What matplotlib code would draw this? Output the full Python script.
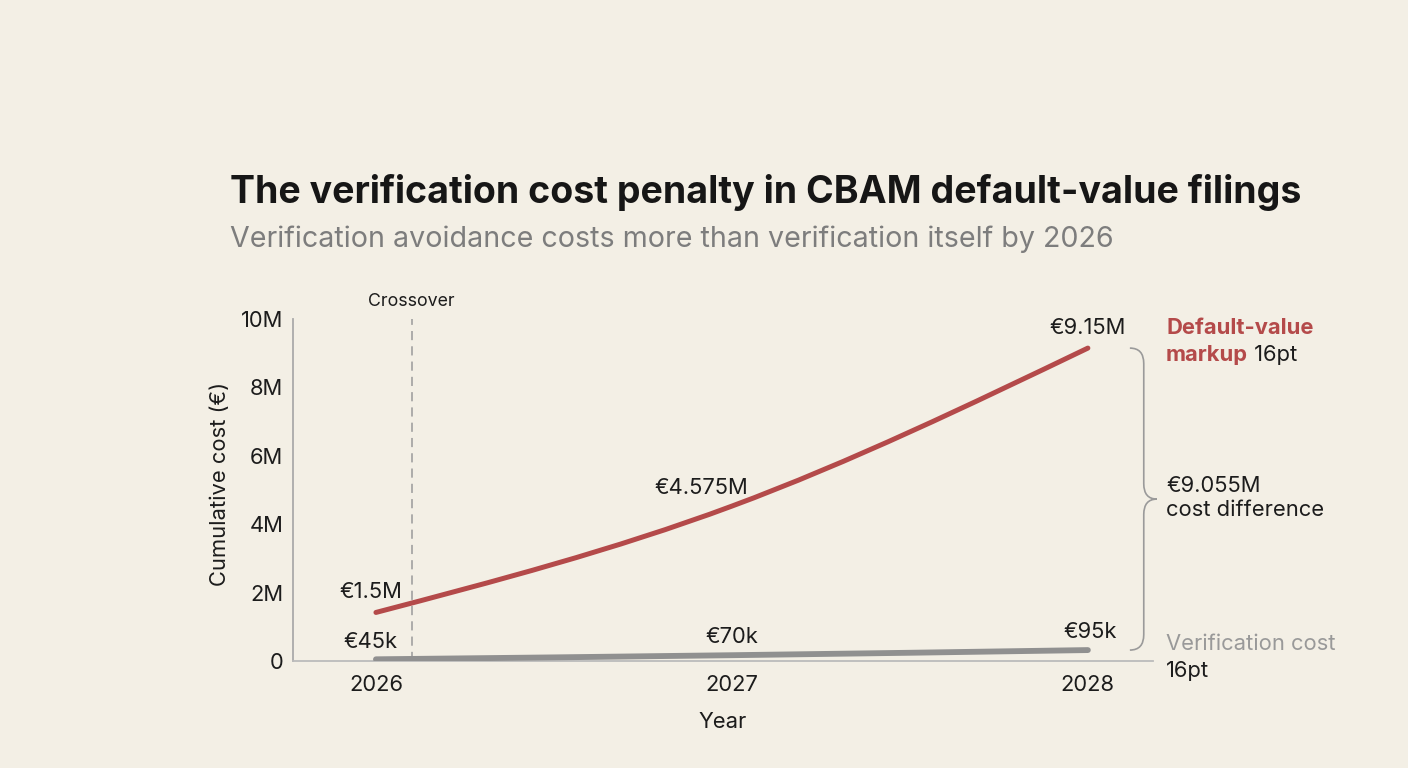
import numpy as np
import matplotlib
matplotlib.use("Agg")
import matplotlib.pyplot as plt
from matplotlib.path import Path
from matplotlib.patches import PathPatch

plt.rcParams['font.family'] = ['Inter', 'DejaVu Sans']

# data (in millions of euro)
years = [2026, 2027, 2028]
default_vals = [1.42, 4.53, 9.15]
verif_vals = [0.05, 0.17, 0.32]
default_labels = ['€1.5M', '€4.575M', '€9.15M']
verif_labels = ['€45k', '€70k', '€95k']
yticks = [0, 2, 4, 6, 8, 10]
ytick_labels = ['0', '2M', '4M', '6M', '8M', '10M']
crossover_year = 2026.1
diff_label = '€9.055M\ncost difference'

BG = '#F3EFE5'
RED = '#B44A4A'
GREY = '#909090'
INK = '#1c1c1c'
FS = 15.8


def mono_tangents(x, y):
    x = np.asarray(x, float)
    y = np.asarray(y, float)
    h = np.diff(x)
    s = np.diff(y) / h
    t = np.zeros(len(x))
    for i in range(1, len(x) - 1):
        p = (s[i-1]*h[i] + s[i]*h[i-1]) / (h[i-1] + h[i])
        t[i] = (np.sign(s[i-1]) + np.sign(s[i])) * min(abs(s[i-1]), abs(s[i]), 0.5*abs(p))
    t[0] = (3*s[0] - t[1]) / 2
    t[-1] = (3*s[-1] - t[-2]) / 2
    return t


def smooth_path(x, y):
    t = mono_tangents(x, y)
    verts = [(x[0], y[0])]
    codes = [Path.MOVETO]
    for i in range(len(x) - 1):
        h = x[i+1] - x[i]
        verts += [(x[i] + h/3, y[i] + t[i]*h/3),
                  (x[i+1] - h/3, y[i+1] - t[i+1]*h/3),
                  (x[i+1], y[i+1])]
        codes += [Path.CURVE4] * 3
    return Path(verts, codes)


fig = plt.figure(figsize=(14.08, 7.68), dpi=100, facecolor=BG)
ax = fig.add_axes([0.2081, 0.1393, 0.6108, 0.4453])
ax.set_facecolor(BG)
ax.set_xlim(2025.767, 2028.183)
ax.set_ylim(0, 10)

for s in ['top', 'right']:
    ax.spines[s].set_visible(False)
ax.spines['left'].set_color('#aaaaaa')
ax.spines['bottom'].set_color('#bbbbbb')
ax.spines['left'].set_linewidth(1.3)
ax.spines['bottom'].set_linewidth(1.3)

ax.set_xticks(years)
ax.set_xticklabels([str(y) for y in years])
ax.set_yticks(yticks)
ax.set_yticklabels(ytick_labels)
ax.tick_params(axis='both', length=0, labelsize=FS, colors=INK)
ax.tick_params(axis='x', pad=10)
ax.tick_params(axis='y', pad=7)

# crossover marker
ax.axvline(crossover_year, color='#9a9a9a', lw=1.1, dashes=(6, 4), zorder=1)
ax.text(crossover_year, 10.25, 'Crossover', ha='center', va='bottom',
        fontsize=12.8, color=INK)

# lines
ax.add_patch(PathPatch(smooth_path(years, verif_vals), fill=False,
                       edgecolor=GREY, lw=4.2, capstyle='round', zorder=3))
ax.add_patch(PathPatch(smooth_path(years, default_vals), fill=False,
                       edgecolor=RED, lw=3.6, capstyle='round', zorder=4))

# point labels
red_off = [(-3.6, 15), (-22, 13), (0, 14.4)]
grey_off = [(-3.6, 12.5), (0, 13), (1.5, 13)]
for x, y, lab, off in zip(years, default_vals, default_labels, red_off):
    ax.annotate(lab, (x, y), xytext=off, textcoords='offset points',
                ha='center', va='center', fontsize=FS, color=INK)
for x, y, lab, off in zip(years, verif_vals, verif_labels, grey_off):
    ax.annotate(lab, (x, y), xytext=off, textcoords='offset points',
                ha='center', va='center', fontsize=FS, color=INK)

# brace between the two end values
ytop = default_vals[-1]
ybot = verif_vals[-1]
ymid = (ytop + ybot) / 2
x0, x1, x2 = 2028.118, 2028.157, 2028.194
r = 0.45
bverts = [(x0, ytop), (x1, ytop), (x1, ytop - r), (x1, ymid + r),
          (x1, ymid), (x2, ymid), (x1, ymid), (x1, ymid - r),
          (x1, ybot + r), (x1, ybot), (x0, ybot)]
bcodes = [Path.MOVETO, Path.CURVE3, Path.CURVE3, Path.LINETO,
          Path.CURVE3, Path.CURVE3, Path.CURVE3, Path.CURVE3,
          Path.LINETO, Path.CURVE3, Path.CURVE3]
ax.add_patch(PathPatch(Path(bverts, bcodes), fill=False, edgecolor='#9a9a9a',
                       lw=1.2, clip_on=False))

# right-side labels
lx = 1166 / 1408
fig.text(lx, 1 - 328/768, 'Default-value', ha='left', va='center',
         fontsize=FS, color=RED, fontweight='bold')
t_mk = fig.text(lx, 1 - 355/768, 'markup', ha='left', va='center',
                fontsize=FS, color=RED, fontweight='bold')
ax.annotate(' 16pt', xy=(1, 0.5), xycoords=t_mk, ha='left', va='center',
            fontsize=FS, color=INK, annotation_clip=False)
fig.text(lx, 1 - 498/768, diff_label, ha='left', va='center',
         fontsize=FS, color=INK, linespacing=1.25)
fig.text(lx, 1 - 644/768, 'Verification cost', ha='left', va='center',
         fontsize=FS, color='#999999')
fig.text(lx, 1 - 671/768, '16pt', ha='left', va='center',
         fontsize=FS, color=INK)

# axis titles
fig.text(723/1408, 1 - 722/768, 'Year', ha='center', va='center',
         fontsize=FS, color=INK)
fig.text(220/1408, 1 - 484/768, 'Cumulative cost (€)', ha='center', va='center',
         rotation=90, fontsize=FS, color=INK)

# title block
fig.text(230/1408, 1 - 203/768, 'The verification cost penalty in CBAM default-value filings',
         ha='left', va='baseline', fontsize=27, fontweight='bold', color='#161616')
fig.text(230/1408, 1 - 247/768, 'Verification avoidance costs more than verification itself by 2026',
         ha='left', va='baseline', fontsize=20.6, color='#7d7d7d')

fig.savefig('out.png', dpi=100, facecolor=BG)
